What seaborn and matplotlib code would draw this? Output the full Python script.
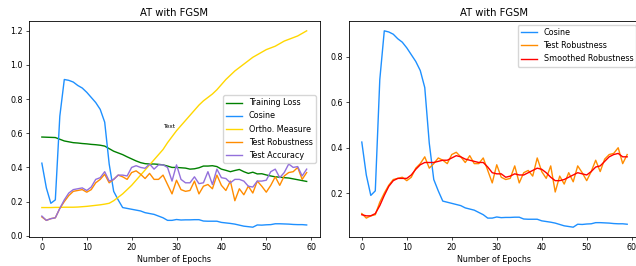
import numpy as np
import matplotlib
matplotlib.use('Agg')
import matplotlib.pyplot as plt
import seaborn as sns

epochs = list(range(60))

training_loss = [0.578, 0.577, 0.576, 0.575, 0.565, 0.555, 0.550, 0.545, 0.543, 0.540,
                 0.538, 0.535, 0.533, 0.530, 0.525, 0.510, 0.495, 0.485, 0.475, 0.462,
                 0.450, 0.438, 0.428, 0.422, 0.420, 0.420, 0.418, 0.415, 0.408, 0.400,
                 0.400, 0.398, 0.396, 0.390, 0.392, 0.398, 0.408, 0.408, 0.410, 0.405,
                 0.390, 0.383, 0.375, 0.382, 0.388, 0.375, 0.365, 0.372, 0.362, 0.363,
                 0.356, 0.350, 0.345, 0.343, 0.340, 0.338, 0.333, 0.328, 0.323, 0.318]

cosine = [0.425, 0.280, 0.190, 0.210, 0.700, 0.915, 0.910, 0.900, 0.880, 0.865,
          0.840, 0.810, 0.780, 0.740, 0.665, 0.420, 0.260, 0.210, 0.165, 0.160,
          0.155, 0.150, 0.145, 0.135, 0.130, 0.125, 0.115, 0.105, 0.090, 0.090,
          0.095, 0.092, 0.093, 0.093, 0.094, 0.094, 0.086, 0.085, 0.085, 0.085,
          0.078, 0.075, 0.072, 0.068, 0.062, 0.056, 0.053, 0.050, 0.063, 0.062,
          0.064, 0.065, 0.070, 0.070, 0.069, 0.068, 0.066, 0.065, 0.065, 0.063]

ortho = [0.165, 0.165, 0.165, 0.166, 0.166, 0.167, 0.167, 0.167, 0.168, 0.170,
         0.172, 0.175, 0.178, 0.181, 0.185, 0.190, 0.205, 0.225, 0.245, 0.270,
         0.295, 0.325, 0.355, 0.385, 0.415, 0.445, 0.475, 0.505, 0.545, 0.580,
         0.615, 0.645, 0.675, 0.705, 0.735, 0.765, 0.790, 0.810, 0.830, 0.855,
         0.885, 0.915, 0.940, 0.965, 0.985, 1.005, 1.025, 1.045, 1.060, 1.075,
         1.090, 1.100, 1.110, 1.125, 1.140, 1.150, 1.160, 1.170, 1.185, 1.200]

test_robustness = [0.110, 0.090, 0.100, 0.105, 0.160, 0.200, 0.235, 0.260, 0.265, 0.270,
                   0.255, 0.270, 0.310, 0.330, 0.360, 0.310, 0.330, 0.355, 0.345, 0.330,
                   0.370, 0.380, 0.360, 0.335, 0.365, 0.330, 0.330, 0.355, 0.300, 0.245,
                   0.325, 0.270, 0.260, 0.265, 0.320, 0.245, 0.290, 0.300, 0.275, 0.355,
                   0.295, 0.265, 0.320, 0.205, 0.275, 0.240, 0.290, 0.250, 0.320, 0.290,
                   0.255, 0.295, 0.345, 0.295, 0.350, 0.370, 0.375, 0.400, 0.330, 0.370]

test_accuracy = [0.115, 0.090, 0.100, 0.105, 0.160, 0.210, 0.250, 0.270, 0.275, 0.280,
                 0.265, 0.285, 0.330, 0.340, 0.375, 0.320, 0.330, 0.355, 0.355, 0.350,
                 0.400, 0.410, 0.400, 0.395, 0.420, 0.390, 0.415, 0.415, 0.400, 0.320,
                 0.415, 0.330, 0.310, 0.310, 0.345, 0.305, 0.310, 0.375, 0.300, 0.390,
                 0.340, 0.335, 0.310, 0.330, 0.330, 0.320, 0.290, 0.285, 0.320, 0.320,
                 0.325, 0.375, 0.390, 0.340, 0.370, 0.420, 0.400, 0.405, 0.350, 0.390]

smoothed = [0.105, 0.100, 0.100, 0.110, 0.145, 0.190, 0.230, 0.255, 0.265, 0.265,
            0.265, 0.280, 0.305, 0.325, 0.335, 0.335, 0.335, 0.340, 0.345, 0.345,
            0.355, 0.365, 0.360, 0.350, 0.345, 0.340, 0.335, 0.335, 0.315, 0.290,
            0.285, 0.285, 0.270, 0.275, 0.285, 0.280, 0.280, 0.290, 0.300, 0.310,
            0.305, 0.290, 0.270, 0.255, 0.255, 0.260, 0.270, 0.280, 0.290, 0.285,
            0.280, 0.295, 0.315, 0.320, 0.340, 0.360, 0.370, 0.375, 0.360, 0.360]

# everything looks like default mpl scaled down ~0.58
plt.rcParams.update({
    'font.size': 5.8,
    'xtick.major.size': 2, 'ytick.major.size': 2,
    'xtick.major.pad': 2, 'ytick.major.pad': 2,
    'axes.labelpad': 2.3, 'axes.titlepad': 3.5,
    'axes.linewidth': 0.6,
    'xtick.major.width': 0.5, 'ytick.major.width': 0.5,
    'legend.fontsize': 5.8,
})
fig = plt.figure(figsize=(6.36, 2.66), dpi=100)
ax1 = fig.add_axes([0.045, 0.109, 0.458, 0.812])
ax2 = fig.add_axes([0.548, 0.109, 0.459, 0.812])

lw = 1.0
# left panel
sns.lineplot(x=epochs, y=training_loss, ax=ax1, color='green', lw=lw, label='Training Loss')
sns.lineplot(x=epochs, y=cosine, ax=ax1, color='dodgerblue', lw=lw, label='Cosine')
sns.lineplot(x=epochs, y=ortho, ax=ax1, color='gold', lw=lw, label='Ortho. Measure')
sns.lineplot(x=epochs, y=test_robustness, ax=ax1, color='darkorange', lw=lw, label='Test Robustness')
sns.lineplot(x=epochs, y=test_accuracy, ax=ax1, color='mediumpurple', lw=lw, label='Test Accuracy')
ax1.text(27, 0.63, 'Text', fontsize=4.3)
ax1.set_title('AT with FGSM', fontsize=7.2)
ax1.set_xlabel('Number of Epochs')
ax1.legend(loc='center right')

# right panel
sns.lineplot(x=epochs, y=cosine, ax=ax2, color='dodgerblue', lw=lw, label='Cosine')
sns.lineplot(x=epochs, y=test_robustness, ax=ax2, color='darkorange', lw=lw, label='Test Robustness')
sns.lineplot(x=epochs, y=smoothed, ax=ax2, color='red', lw=lw, label='Smoothed Robustness')
ax2.set_title('AT with FGSM', fontsize=7.2)
ax2.set_xlabel('Number of Epochs')
ax2.legend(loc='upper right')

for ax in (ax1, ax2):
    ax.set_xticks([0, 10, 20, 30, 40, 50, 60])

fig.savefig('out.png', dpi=100)
